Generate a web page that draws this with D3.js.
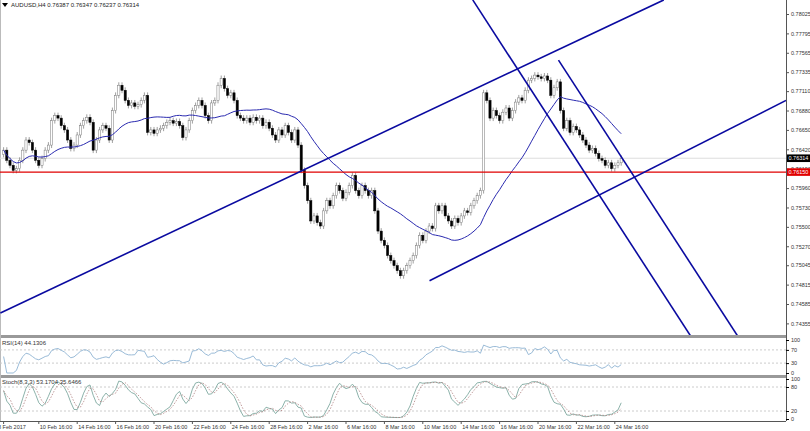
<!DOCTYPE html>
<html><head><meta charset="utf-8">
<script src="https://cdn.jsdelivr.net/npm/d3@7"></script>
<style>
body{margin:0;background:#fff;font-family:"Liberation Sans",sans-serif}
text{font-family:"Liberation Sans",sans-serif;font-size:6px}
</style></head>
<body><svg id="c" width="810" height="431"></svg>
<script>
// H4 closes, AUDUSD 8 Feb - 24 Mar 2017
var closes = [
 0.7641,0.7629,0.7623,0.7617,0.7619,0.7629,0.7641,0.7653,0.7650,0.7641,0.7629,0.7623,0.7631,
 0.7641,0.7647,0.7676,0.7682,0.7679,0.7670,
 0.7665,0.7653,0.7643,0.7647,0.7659,0.7670,
 0.7676,0.7680,0.7674,0.7641,0.7653,0.7665,
 0.7670,0.7667,0.7653,0.7688,0.7706,0.7718,
 0.7712,0.7700,0.7694,0.7697,0.7693,0.7695,
 0.7700,0.7706,0.7662,0.7665,0.7661,0.7665,
 0.7667,0.7670,0.7674,0.7676,0.7673,0.7675,
 0.7670,0.7656,0.7665,0.7676,0.7688,0.7694,
 0.7700,0.7694,0.7682,0.7676,0.7697,0.7700,
 0.7718,0.7726,0.7714,0.7706,0.7709,0.7700,
 0.7682,0.7679,0.7676,0.7679,0.7674,0.7680,
 0.7676,0.7679,0.7670,0.7674,0.7667,0.7659,
 0.7653,0.7665,0.7659,0.7670,0.7662,0.7653,
 0.7665,0.7647,0.7617,0.7599,0.7581,0.7557,
 0.7563,0.7555,0.7551,0.7569,0.7581,0.7575,
 0.7587,0.7599,0.7593,0.7584,0.7591,0.7599,
 0.7611,0.7593,0.7587,0.7599,0.7593,0.7587,
 0.7593,0.7569,0.7545,0.7534,0.7528,0.7516,
 0.7510,0.7504,0.7498,0.7492,0.7498,0.7504,
 0.7510,0.7516,0.7528,0.7540,0.7534,0.7545,
 0.7551,0.7548,0.7575,0.7569,0.7575,0.7563,
 0.7557,0.7551,0.7560,0.7555,0.7563,0.7569,
 0.7567,0.7575,0.7581,0.7587,0.7593,
 0.7709,
 0.7700,0.7679,0.7688,0.7682,0.7676,0.7686,
 0.7691,0.7679,0.7688,0.7698,0.7703,0.7700,
 0.7712,0.7724,0.7726,0.7730,0.7728,0.7726,
 0.7729,0.7724,0.7706,0.7715,0.7722,0.7688,
 0.7667,0.7676,0.7662,0.7669,0.7665,0.7659,
 0.7653,0.7647,0.7641,0.7643,0.7637,0.7631,
 0.7629,0.7623,0.7626,0.7619,0.7623,0.7626,0.76314
];
var firstOpen = 0.7636;
var wick = 0.00035;
var priceTicks = [0.78025,0.77795,0.77565,0.77335,0.77110,0.76880,0.76650,0.76420,0.76190,0.75960,0.75730,0.75500,0.75270,0.75045,0.74815,0.74585,0.74355];
var timeLabels = ["8 Feb 2017","10 Feb 16:00","14 Feb 16:00","16 Feb 16:00","20 Feb 16:00","22 Feb 16:00","24 Feb 16:00","28 Feb 16:00","2 Mar 16:00","6 Mar 16:00","8 Mar 16:00","10 Mar 16:00","14 Mar 16:00","16 Mar 16:00","20 Mar 16:00","22 Mar 16:00","24 Mar 16:00"];
var timeBars = [0,11,23,35,47,59,71,83,95,107,119,131,143,155,167,179,191];
// drawn trend lines: [bar, price] endpoints
var trendLines = [
  [[-1,0.74479],[206.3,0.78192]],
  [[133.1,0.74860],[244.5,0.77000]],
  [[146.6,0.78192],[214.7,0.74205]],
  [[173.4,0.77478],[229.4,0.74205]]
];
var supportLevel = 0.76150;
var lastPrice = 0.76314;

var svg = d3.select("#c");
var W = 786;
var x = d3.scaleLinear().domain([0,1]).range([3.6,6.8]);
var y = d3.scaleLinear().domain([0.78025,0.74585]).range([14,304]);
var yRsi = d3.scaleLinear().domain([0,100]).range([373,340]);
var ySto = d3.scaleLinear().domain([0,100]).range([419,379]);

var bars = closes.map(function(c,i){
  var o = i==0 ? firstOpen : closes[i-1];
  return {i:i,o:o,c:c,h:Math.max(o,c)+wick,l:Math.min(o,c)-wick};
});

// panels
svg.append("rect").attr("x",0).attr("y",335).attr("width",W).attr("height",3).attr("fill","#999");
svg.append("rect").attr("x",0).attr("y",375).attr("width",W).attr("height",3).attr("fill","#999");
svg.append("line").attr("x1",W+0.5).attr("x2",W+0.5).attr("y1",0).attr("y2",421).attr("stroke","#555");
svg.append("line").attr("x1",0).attr("x2",W).attr("y1",421.5).attr("y2",421.5).attr("stroke","#555");
svg.append("line").attr("x1",0.5).attr("x2",0.5).attr("y1",0).attr("y2",421).attr("stroke","#bbb");

svg.append("defs").append("clipPath").attr("id","mc").append("rect").attr("width",W).attr("height",335);
var main = svg.append("g").attr("clip-path","url(#mc)");

// price axis
var ax = svg.append("g").attr("transform","translate("+W+",0)")
  .call(d3.axisRight(y).tickValues(priceTicks).tickSize(3).tickPadding(2).tickFormat(d3.format(".5f")));
ax.select(".domain").remove();
ax.selectAll("text").attr("fill","#333").style("font-size","5.5px");
ax.selectAll("line").attr("stroke","#555");

// current price line
main.append("line").attr("x1",0).attr("x2",W).attr("y1",y(lastPrice)).attr("y2",y(lastPrice)).attr("stroke","#ddd");

// candles
var cg = main.append("g");
cg.selectAll("line").data(bars).enter().append("line")
  .attr("x1",function(d){return x(d.i)}).attr("x2",function(d){return x(d.i)})
  .attr("y1",function(d){return y(d.h)}).attr("y2",function(d){return y(d.l)})
  .attr("stroke","#777").attr("stroke-width",0.7);
cg.selectAll("rect").data(bars).enter().append("rect")
  .attr("x",function(d){return x(d.i)-1.1}).attr("width",2.2)
  .attr("y",function(d){return y(Math.max(d.o,d.c))})
  .attr("height",function(d){return Math.max(0.8,Math.abs(y(d.o)-y(d.c)))})
  .attr("fill",function(d){return d.c>=d.o?"#fff":"#000"})
  .attr("stroke",function(d){return d.c>=d.o?"#777":"#000"}).attr("stroke-width",0.5);

// moving average
function sma(arr,n){return arr.map(function(v,i){var s=arr.slice(Math.max(0,i-n+1),i+1);return d3.mean(s)});}
var ma = sma(closes,25);
main.append("path").datum(ma).attr("fill","none").attr("stroke","#2b2bb0").attr("stroke-width",1)
  .attr("d",d3.line().x(function(d,i){return x(i)}).y(function(d){return y(d)}));

// support
main.append("line").attr("x1",0).attr("x2",W).attr("y1",y(supportLevel)).attr("y2",y(supportLevel)).attr("stroke","#e00000").attr("stroke-width",1.3);

// trend lines
main.selectAll(".tl").data(trendLines).enter().append("line")
  .attr("x1",function(d){return x(d[0][0])}).attr("y1",function(d){return y(d[0][1])})
  .attr("x2",function(d){return x(d[1][0])}).attr("y2",function(d){return y(d[1][1])})
  .attr("stroke","#0a0aa0").attr("stroke-width",1.6);

// price tags
function tag(p,bg,fg,txt){
  svg.append("rect").attr("x",W+1).attr("y",y(p)-3.8).attr("width",23).attr("height",7.6).attr("fill",bg);
  svg.append("text").attr("x",W+2.5).attr("y",y(p)+2).attr("fill",fg).style("font-size","5.5px").text(txt);
}
tag(lastPrice,"#000","#fff","0.76314");
tag(supportLevel,"#e00000","#fff","0.76150");

// RSI(14)
var rsi = closes.map(function(c,i){
  if(i<1) return 50;
  var g=0,l=0,s=Math.max(1,i-13);
  for(var k=s;k<=i;k++){var d=closes[k]-closes[k-1]; if(d>0) g+=d; else l-=d;}
  return l==0?100:100-100/(1+g/l);
});
[70,30].forEach(function(v){svg.append("line").attr("x1",0).attr("x2",W).attr("y1",yRsi(v)).attr("y2",yRsi(v)).attr("stroke","#ccc").attr("stroke-dasharray","2,2");});
svg.append("path").datum(rsi).attr("fill","none").attr("stroke","#8fb3d3").attr("stroke-width",0.9)
  .attr("d",d3.line().x(function(d,i){return x(i)}).y(function(d){return yRsi(d)}));
var ra = svg.append("g").attr("transform","translate("+W+",0)")
  .call(d3.axisRight(yRsi).tickValues([100,70,30,0]).tickSize(3).tickPadding(2));
ra.select(".domain").remove(); ra.selectAll("text").style("font-size","5.5px").attr("fill","#333");
svg.append("text").attr("x",2).attr("y",345).attr("fill","#333").text("RSI(14) 44.1306");

// Stochastic(8,3,3)
var kRaw = bars.map(function(d,i){
  var s=bars.slice(Math.max(0,i-7),i+1);
  var hh=d3.max(s,function(b){return b.h}), ll=d3.min(s,function(b){return b.l});
  return hh==ll?50:100*(d.c-ll)/(hh-ll);
});
var kLine = sma(kRaw,3), dLine = sma(kLine,3);
[80,20].forEach(function(v){svg.append("line").attr("x1",0).attr("x2",W).attr("y1",ySto(v)).attr("y2",ySto(v)).attr("stroke","#ccc").attr("stroke-dasharray","2,2");});
var sl = d3.line().x(function(d,i){return x(i)}).y(function(d){return ySto(d)});
svg.append("path").datum(kLine).attr("fill","none").attr("stroke","#7fa9a0").attr("stroke-width",0.9).attr("d",sl);
svg.append("path").datum(dLine).attr("fill","none").attr("stroke","#b08080").attr("stroke-width",0.8).attr("stroke-dasharray","1.5,1.5").attr("d",sl);
var sa = svg.append("g").attr("transform","translate("+W+",0)")
  .call(d3.axisRight(ySto).tickValues([100,80,20,0]).tickSize(3).tickPadding(2));
sa.select(".domain").remove(); sa.selectAll("text").style("font-size","5.5px").attr("fill","#333");
svg.append("text").attr("x",2).attr("y",384).attr("fill","#333").text("Stoch(8,3,3) 53.1704 35.6466");

// time axis
var tg = svg.append("g");
tg.selectAll("line").data(timeBars).enter().append("line")
  .attr("x1",function(d){return x(d)}).attr("x2",function(d){return x(d)})
  .attr("y1",421).attr("y2",424).attr("stroke","#555");
tg.selectAll("text").data(timeLabels).enter().append("text")
  .attr("x",function(d,i){return i==0?-2:x(timeBars[i])+1}).attr("y",429).attr("fill","#333")
  .style("font-size","5.5px").text(function(d){return d});

// header
svg.append("path").attr("d","M2,3 L8,3 L5,7 Z").attr("fill","#000");
svg.append("text").attr("x",11).attr("y",7).attr("fill","#222")
  .text("AUDUSD,H4  0.76387 0.76347 0.76237 0.76314");
</script></body></html>
